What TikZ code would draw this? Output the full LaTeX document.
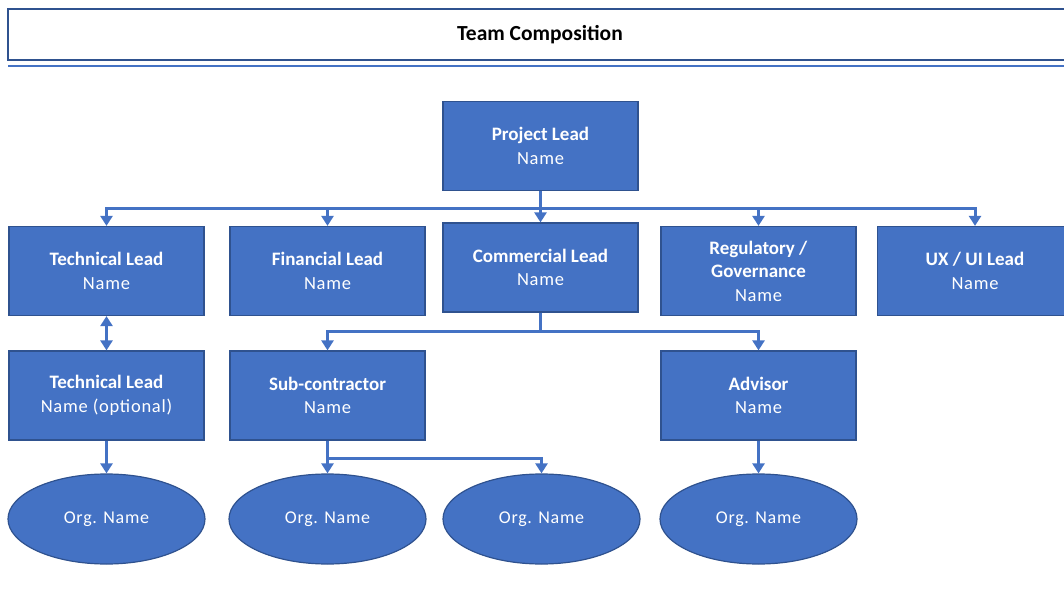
\documentclass[tikz,border=0pt]{standalone}
\usepackage{fontspec}
\setmainfont{Carlito}
\newfontfamily\namefont[LetterSpace=4]{Carlito}
\usetikzlibrary{shapes.geometric,arrows.meta}
\definecolor{boxblue}{HTML}{4472C4}
\definecolor{boxedge}{HTML}{2F528F}
\begin{document}
\begin{tikzpicture}[x=1pt,y=-1pt,
  role/.style={rectangle, fill=boxblue, draw=boxedge, line width=1.2pt, minimum width=195pt, minimum height=89pt, inner sep=0pt, text=white, align=center, font=\fontsize{19}{23.5}\selectfont},
  org/.style={ellipse, fill=boxblue, draw=boxedge, line width=1.2pt, minimum width=197pt, minimum height=90pt, inner sep=0pt, text=white, font=\namefont\fontsize{18}{23}\selectfont},
  link/.style={draw=boxblue, line width=3pt, -{Triangle[width=12pt,length=10pt]}},
  twoway/.style={link, {Triangle[width=12pt,length=10pt]}-{Triangle[width=12pt,length=10pt]}}]
\useasboundingbox (0,0) rectangle (1064,596);
\clip (0,0) rectangle (1064,596);
\draw [draw=boxedge, line width=1.5pt] (8,9) rectangle (1080,60);
\node (title) at (540,35) {\fontsize{21.5}{24}\selectfont\bfseries Team Composition};
\draw [draw=boxblue, line width=2pt] (8,66.5) -- (1064,66.5);

\node [role] (lead) at (540.5,146) {\textbf{Project Lead}\\{\namefont\fontsize{18.5}{23}\selectfont Name}};
\node [role] (tech) at (106.5,271) {\textbf{Technical Lead}\\{\namefont\fontsize{18.5}{23}\selectfont Name}};
\node [role] (fin)  at (327.5,271) {\textbf{Financial Lead}\\{\namefont\fontsize{18.5}{23}\selectfont Name}};
\node [role] (comm) at (540.5,267.5) {\textbf{Commercial Lead}\\{\namefont\fontsize{18.5}{23}\selectfont Name}};
\node [role] (reg)  at (758.5,271) {\textbf{Regulatory /}\\\textbf{Governance}\\{\namefont\fontsize{18.5}{23}\selectfont Name}};
\node [role] (ux)   at (975,271) {\textbf{UX / UI Lead}\\{\namefont\fontsize{18.5}{23}\selectfont Name}};
\node [role] (tech2) at (106.5,395.5) {\textbf{Technical Lead}\\{\namefont\fontsize{18.5}{23}\selectfont Name (optional)}};
\node [role] (sub)   at (327.5,395.5) {\textbf{Sub-contractor}\\{\namefont\fontsize{18.5}{23}\selectfont Name}};
\node [role] (adv)   at (758.5,395.5) {\textbf{Advisor}\\{\namefont\fontsize{18.5}{23}\selectfont Name}};
\node [org] (org1) at (106.5,519) {Org. Name};
\node [org] (org2) at (327.5,519) {Org. Name};
\node [org] (org3) at (541.5,519) {Org. Name};
\node [org] (org4) at (758.5,519) {Org. Name};

\coordinate (bus) at (540.5,208);
\coordinate (split) at (540.5,331);
\coordinate (fork) at (327.5,458);
\foreach \n in {tech,fin,comm,reg,ux}
  \draw [link] (lead.south) |- (bus) -| (\n.north);
\draw [link] (comm.south) |- (split) -| (sub.north);
\draw [link] (comm.south) |- (split) -| (adv.north);
\draw [twoway] (tech.south) -- (tech2.north);
\draw [link] (tech2.south) -- (org1.north);
\draw [link] (sub.south) -- (org2.north);
\draw [link] (sub.south) |- (fork) -| (org3.north);
\draw [link] (adv.south) -- (org4.north);
\end{tikzpicture}
\end{document}
